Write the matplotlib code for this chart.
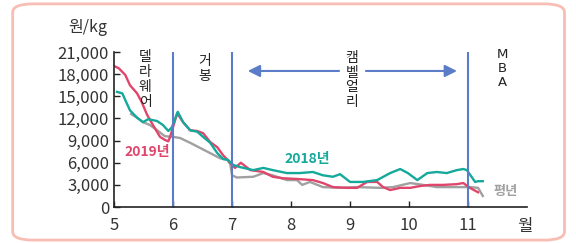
import matplotlib.pyplot as plt
from matplotlib.patches import FancyBboxPatch

plt.rcParams['font.family'] = ['Noto Sans CJK KR', 'DejaVu Sans']

# 2019년
x_2019 = [5.0, 5.08, 5.19, 5.27, 5.39, 5.47, 5.56, 5.66, 5.78, 5.86, 5.92, 5.95,
          6.07, 6.17, 6.29, 6.41, 6.51, 6.63, 6.75, 6.85, 6.97, 7.05, 7.15, 7.31,
          7.53, 7.69, 7.86, 8.10, 8.37, 8.54, 8.71, 8.95, 9.12, 9.29, 9.46, 9.56,
          9.68, 9.85, 10.02, 10.19, 10.36, 10.58, 10.81, 10.92, 11.03, 11.17]
y_2019 = [19100, 18800, 17900, 16500, 15400, 14200, 12500, 11100, 9500, 9100, 8900, 9500,
          12700, 11500, 10400, 10300, 10000, 8800, 8100, 7000, 6000, 5300, 6000, 5000,
          4750, 4100, 3900, 3800, 3650, 3250, 2700, 2600, 2600, 3400, 3400, 2700,
          2300, 2600, 2600, 2850, 3000, 3000, 3100, 3250, 2600, 2000]

# 2018년
x_2018 = [5.05, 5.14, 5.19, 5.27, 5.39, 5.49, 5.58, 5.73, 5.83, 5.92, 5.98,
          6.08, 6.17, 6.29, 6.41, 6.51, 6.63, 6.75, 6.85, 6.93, 7.02, 7.14, 7.36,
          7.53, 7.69, 7.93, 8.15, 8.37, 8.54, 8.71, 8.83, 9.00, 9.22, 9.46, 9.68,
          9.85, 9.98, 10.14, 10.31, 10.47, 10.64, 10.81, 10.92, 10.98, 11.12, 11.17, 11.25]
y_2018 = [15600, 15400, 14500, 13100, 12100, 11500, 11900, 11650, 11100, 10300, 10800,
          12900, 11500, 10400, 10200, 9500, 8700, 7300, 6500, 6400, 5700, 5400, 5000,
          5300, 5000, 4600, 4600, 4750, 4300, 4100, 4450, 3400, 3400, 3650, 4600,
          5150, 4600, 3650, 4600, 4750, 4600, 5000, 5150, 5000, 3400, 3500, 3500]

# 평년
x_avg = [5.29, 5.39, 5.49, 5.61, 5.73, 5.86, 6.0, 6.12, 6.29, 6.46, 6.63, 6.80, 6.92,
         6.97, 7.0, 7.08, 7.36, 7.53, 7.69, 7.93, 8.10, 8.19, 8.32, 8.54, 8.83, 9.12,
         9.51, 9.73, 10.02, 10.24, 10.47, 10.81, 11.03, 11.17, 11.20, 11.25]
y_avg = [12600, 12100, 11500, 11100, 10400, 9600, 9500, 9350, 8700, 8000, 7300, 6600, 6400,
         5800, 4300, 4000, 4100, 4600, 4300, 3650, 3650, 3000, 3400, 2700, 2600, 2700,
         2600, 2700, 3250, 3000, 2700, 2700, 2700, 2600, 2200, 1500]

months = [5, 6, 7, 8, 9, 10, 11]
yticks = [0, 3000, 6000, 9000, 12000, 15000, 18000, 21000]
season_lines = [6, 7, 11]

red = '#e0466b'
teal = '#14a99b'
gray = '#a0a0a0'
blue = '#5b7dc8'
txt = '#333333'

fig = plt.figure(figsize=(5.76, 2.43), dpi=100)
ax = fig.add_axes([0.198, 0.148, 0.717, 0.638])

# 테두리
fig.patches.append(FancyBboxPatch((0.022, 0.012), 0.958, 0.972,
                                  boxstyle='round,pad=0,rounding_size=0.035',
                                  transform=fig.transFigure, fill=False,
                                  edgecolor='#f8bdb4', linewidth=2))

ax.plot(x_avg, y_avg, color=gray, lw=1.7)
ax.plot(x_2019, y_2019, color=red, lw=1.7)
ax.plot(x_2018, y_2018, color=teal, lw=1.7)

for m in season_lines:
    ax.axvline(m, color=blue, lw=1.5)

ax.set_xlim(5, 12)
ax.set_ylim(0, 21000)
ax.set_xticks(months)
ax.set_yticks(yticks)
ax.set_yticklabels([f'{v:,}' for v in yticks])
ax.tick_params(direction='in', length=4, width=1, colors='#222222', labelcolor=txt,
               labelsize=12)
ax.tick_params(axis='x', pad=7)
for lab in ax.get_xticklabels() + ax.get_yticklabels():
    lab.set_family(['Liberation Sans Narrow', 'Noto Sans CJK KR'])
for s in ['top', 'right']:
    ax.spines[s].set_visible(False)
for s in ['left', 'bottom']:
    ax.spines[s].set_linewidth(1.2)
    ax.spines[s].set_color('#222222')

fig.text(0.153, 0.888, '원/kg', ha='center', va='center', fontsize=11.5, color=txt)
fig.text(0.912, 0.068, '월', ha='center', va='center', fontsize=12, color=txt)

ax.text(5.56, 7450, '2019년', color=red, fontsize=10, fontweight='bold', ha='center', va='center')
ax.text(8.27, 6500, '2018년', color=teal, fontsize=10, fontweight='bold', ha='center', va='center')
ax.text(11.63, 2170, '평년', color=gray, fontsize=9.5, fontweight='bold', ha='center', va='center',
        clip_on=False)

ax.text(5.53, 21300, '\n'.join('델라웨어'), ha='center', va='top', fontsize=10,
        linespacing=1.1, color='#222222')
ax.text(6.53, 20700, '\n'.join('거봉'), ha='center', va='top', fontsize=10,
        linespacing=1.1, color='#222222')
ax.annotate('', xy=(7.22, 18430), xytext=(10.86, 18430),
            arrowprops=dict(arrowstyle='<|-|>', color=blue, lw=1.5, mutation_scale=18))
ax.text(9.03, 21100, '\n'.join('캠벨얼리'), ha='center', va='top', fontsize=10,
        linespacing=1.05, color='#222222', backgroundcolor='white')
ax.text(11.58, 21600, '\n'.join('MBA'), ha='center', va='top', fontsize=9.5,
        linespacing=1.1, color='#222222', family=['DejaVu Sans'], clip_on=False)

fig.savefig('out.png', dpi=100)
